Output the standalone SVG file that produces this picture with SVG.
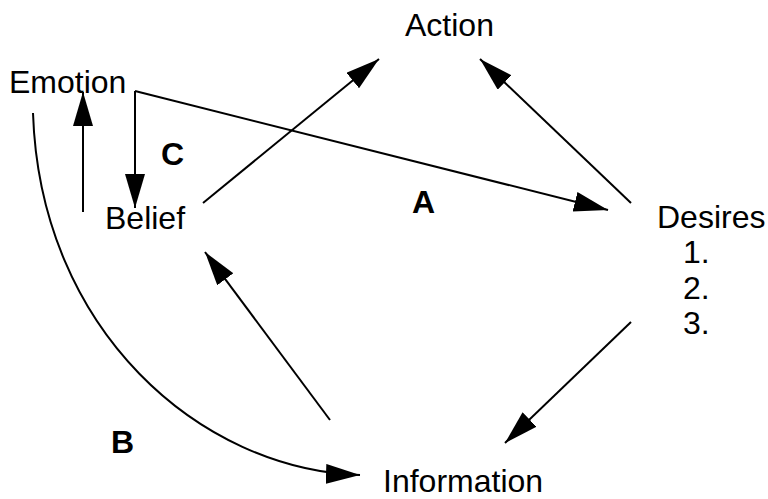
<svg xmlns="http://www.w3.org/2000/svg" width="768" height="499" viewBox="0 0 768 499">
  <style>
    .lbl { font-family: "Liberation Sans", Arial, sans-serif; font-size: 32px; fill: #000; }
    .tag { font-family: "Liberation Sans", Arial, sans-serif; font-size: 32px; font-weight: bold; fill: #000; }
    .edge { fill: none; stroke: #000; stroke-width: 2; marker-end: url(#arrow); }
  </style>
  <defs>
    <marker id="arrow" markerUnits="userSpaceOnUse" markerWidth="36" markerHeight="22" refX="34" refY="10" orient="auto">
      <path d="M0,0 L34,10 L0,20 z" fill="#000"/>
    </marker>
  </defs>
  <rect width="768" height="499" fill="#fff"/>

  <g id="connectors">
    <path class="edge" d="M135,91 L135,208"/>
    <path class="edge" d="M135,91 L608,210"/>
    <path class="edge" d="M83,212 L83,92"/>
    <path class="edge" d="M203,203 L379,59"/>
    <path class="edge" d="M631,203 L480,59"/>
    <path class="edge" d="M631,322 L505,443"/>
    <path class="edge" d="M330,420 L205,252"/>
    <path class="edge" d="M33,113 C40,330 200,470 360,475"/>
  </g>

  <g id="action"><text class="lbl" x="405" y="36">Action</text></g>
  <g id="emotion"><text class="lbl" x="9" y="93">Emotion</text></g>
  <g id="belief"><text class="lbl" x="105" y="229">Belief</text></g>
  <g id="desires">
    <text class="lbl" x="657" y="228">Desires</text>
    <text class="lbl" x="683" y="263">1.</text>
    <text class="lbl" x="683" y="299">2.</text>
    <text class="lbl" x="683" y="334">3.</text>
  </g>
  <g id="information"><text class="lbl" x="383" y="492">Information</text></g>

  <g id="labels">
    <text class="tag" x="161" y="165">C</text>
    <text class="tag" x="412" y="213">A</text>
    <text class="tag" x="111" y="453">B</text>
  </g>
</svg>
